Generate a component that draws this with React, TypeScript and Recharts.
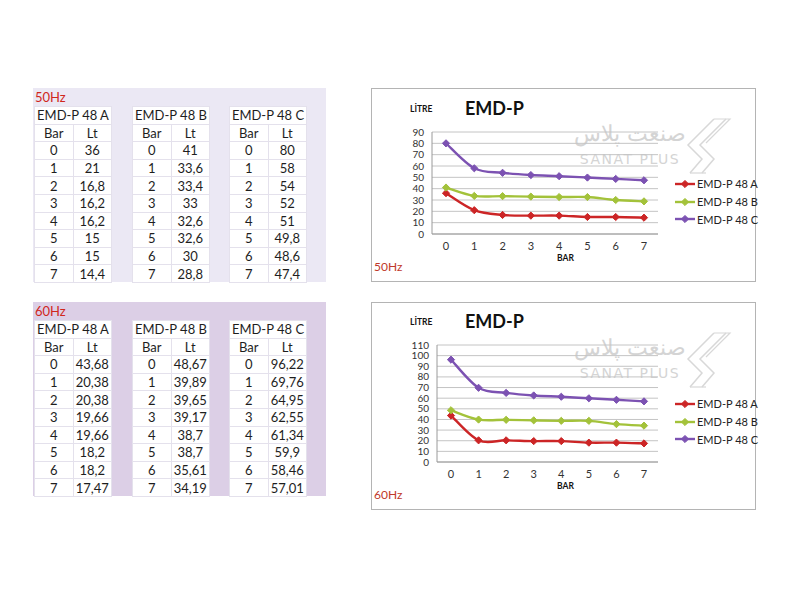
import { LineChart, Line, XAxis, YAxis, CartesianGrid } from 'recharts';

const bars = ['0', '1', '2', '3', '4', '5', '6', '7'];
const seriesNames = ['EMD-P 48 A', 'EMD-P 48 B', 'EMD-P 48 C'];

const hz50A = [36, 21, 16.8, 16.2, 16.2, 15, 15, 14.4];
const hz50B = [41, 33.6, 33.4, 33, 32.6, 32.6, 30, 28.8];
const hz50C = [80, 58, 54, 52, 51, 49.8, 48.6, 47.4];

const hz60A = [43.68, 20.38, 20.38, 19.66, 19.66, 18.2, 18.2, 17.47];
const hz60B = [48.67, 39.89, 39.65, 39.17, 38.7, 38.7, 35.61, 34.19];
const hz60C = [96.22, 69.76, 64.95, 62.55, 61.34, 59.9, 58.46, 57.01];

const ticks50 = [0, 10, 20, 30, 40, 50, 60, 70, 80, 90];
const ticks60 = [0, 10, 20, 30, 40, 50, 60, 70, 80, 90, 100, 110];

const COLORS = ['#cc2526', '#a3c23a', '#7c52b2'];
const FONT = 'Lato, "Open Sans", sans-serif';

// excel style smoothing (catmull-rom as bezier)
const excelCurve: any = (context: any) => {
  let pts: number[][] = [];
  return {
    areaStart() {},
    areaEnd() {},
    lineStart() {
      pts = [];
    },
    lineEnd() {
      if (!pts.length) return;
      context.moveTo(pts[0][0], pts[0][1]);
      for (let i = 0; i < pts.length - 1; i++) {
        const p0 = pts[i - 1] || pts[i];
        const p1 = pts[i];
        const p2 = pts[i + 1];
        const p3 = pts[i + 2] || p2;
        context.bezierCurveTo(
          p1[0] + (p2[0] - p0[0]) / 6,
          p1[1] + (p2[1] - p0[1]) / 6,
          p2[0] - (p3[0] - p1[0]) / 6,
          p2[1] - (p3[1] - p1[1]) / 6,
          p2[0],
          p2[1]
        );
      }
    },
    point(x: number, y: number) {
      pts.push([x, y]);
    },
  };
};

const fmt = (n: number) => String(n).replace('.', ',');

function Diamond({ cx, cy, color }: { cx?: number; cy?: number; color: string }) {
  if (cx == null || cy == null) return null;
  const r = 3.6;
  return <polygon points={`${cx},${cy - r} ${cx + r},${cy} ${cx},${cy + r} ${cx - r},${cy}`} fill={color} stroke={color} />;
}

function DataTable({ title, values, left, top }: { title: string; values: number[]; left: number; top: number }) {
  const cell: React.CSSProperties = {
    background: '#fff',
    border: '1px solid #e4e1ec',
    textAlign: 'center',
    padding: 0,
    height: 16.6,
    lineHeight: '16px',
    whiteSpace: 'nowrap',
  };
  return (
    <table
      style={{
        position: 'absolute',
        left,
        top,
        width: 78,
        borderCollapse: 'collapse',
        fontFamily: FONT,
        fontSize: 13,
        color: '#1e1e1e',
        tableLayout: 'fixed',
      }}
    >
      <tbody>
        <tr>
          <td colSpan={2} style={cell}>{title}</td>
        </tr>
        <tr>
          <td style={cell}>Bar</td>
          <td style={cell}>Lt</td>
        </tr>
        {bars.map((b, i) => (
          <tr key={b}>
            <td style={cell}>{b}</td>
            <td style={cell}>{fmt(values[i])}</td>
          </tr>
        ))}
      </tbody>
    </table>
  );
}

function TableBlock({ label, bg, top, a, b, c }: { label: string; bg: string; top: number; a: number[]; b: number[]; c: number[] }) {
  return (
    <div style={{ position: 'absolute', left: 33, top, width: 293, height: 194, background: bg }}>
      <div style={{ position: 'absolute', left: 2, top: 1, fontFamily: FONT, fontSize: 13, color: '#d0261c' }}>{label}</div>
      <DataTable title={seriesNames[0]} values={a} left={1} top={18} />
      <DataTable title={seriesNames[1]} values={b} left={99} top={18} />
      <DataTable title={seriesNames[2]} values={c} left={196} top={18} />
    </div>
  );
}

function Watermark() {
  const text: React.CSSProperties = {
    position: 'absolute',
    left: 198,
    width: 120,
    textAlign: 'center',
    whiteSpace: 'nowrap',
    color: '#d4d4d4',
    fontFamily: '"DejaVu Sans", sans-serif',
  };
  return (
    <>
      <div style={{ ...text, top: 32, fontSize: 22, direction: 'rtl', fontWeight: 300 }}>صنعت پلاس</div>
      <div style={{ ...text, top: 62, fontSize: 14, letterSpacing: 1.5 }}>SANAT PLUS</div>
      <svg style={{ position: 'absolute', left: 312, top: 28 }} width={50} height={60}>
        <polyline points="30,2 4,28 18,42 6,56" fill="none" stroke="#d8d8d8" strokeWidth={1.5} />
        <polyline points="42,2 16,28 30,42 18,56" fill="none" stroke="#d8d8d8" strokeWidth={1.5} />
        <polyline points="30,2 46,2 22,26" fill="none" stroke="#d8d8d8" strokeWidth={1.2} />
        <polyline points="6,56 22,56" fill="none" stroke="#d8d8d8" strokeWidth={1.2} />
      </svg>
    </>
  );
}

function ChartPanel({
  top,
  height,
  hz,
  a,
  b,
  c,
  yTicks,
  yMax,
  marginLeft,
  marginTop,
  legendTop,
}: {
  top: number;
  height: number;
  hz: string;
  a: number[];
  b: number[];
  c: number[];
  yTicks: number[];
  yMax: number;
  marginLeft: number;
  marginTop: number;
  legendTop: number;
}) {
  const data = bars.map((bar, i) => ({ bar, a: a[i], b: b[i], c: c[i] }));
  const keys = ['a', 'b', 'c'];
  const tick = { fontSize: 10, fill: '#333', fontFamily: FONT };
  return (
    <div style={{ position: 'absolute', left: 371, top, width: 385, height, border: '1px solid #b4b4b4', boxSizing: 'border-box', background: '#fff' }}>
      <Watermark />
      <div style={{ position: 'absolute', left: 93, top: marginTop - 35, fontFamily: FONT, fontWeight: 700, fontSize: 18, color: '#111' }}>EMD-P</div>
      <div style={{ position: 'absolute', left: 38, top: marginTop - 28, fontFamily: FONT, fontWeight: 700, fontSize: 8.5, color: '#111' }}>LİTRE</div>
      <LineChart
        width={383}
        height={height - 2}
        data={data}
        margin={{ top: marginTop, right: 97, left: marginLeft, bottom: 17 }}
        style={{ position: 'absolute', left: 0, top: 0 }}
      >
        <CartesianGrid vertical={false} stroke="#c4c4c4" />
        <XAxis dataKey="bar" height={30} tickLine={false} stroke="#9a9a9a" tick={{ ...tick, fontSize: 11 }} padding={{ left: 14, right: 14 }} />
        <YAxis width={40} domain={[0, yMax]} ticks={yTicks} interval={0} tickLine={false} stroke="#9a9a9a" tick={tick} />
        {keys.map((k, i) => (
          <Line
            key={k}
            dataKey={k}
            name={seriesNames[i]}
            type={excelCurve}
            stroke={COLORS[i]}
            strokeWidth={2.4}
            dot={(p: any) => <Diamond key={`${k}-${p.index}`} cx={p.cx} cy={p.cy} color={COLORS[i]} />}
            isAnimationActive={false}
          />
        ))}
      </LineChart>
      <div style={{ position: 'absolute', left: 185, top: height - 30, fontFamily: FONT, fontWeight: 700, fontSize: 8.5, color: '#111' }}>BAR</div>
      <div style={{ position: 'absolute', left: 2, top: height - 24, fontFamily: FONT, fontSize: 12, color: '#c0392b' }}>{hz}</div>
      <div style={{ position: 'absolute', left: 303, top: legendTop }}>
        {seriesNames.map((n, i) => (
          <div key={n} style={{ display: 'flex', alignItems: 'center', height: 17.7, whiteSpace: 'nowrap' }}>
            <svg width={20} height={10}>
              <line x1={0} y1={5} x2={20} y2={5} stroke={COLORS[i]} strokeWidth={2.4} />
              <Diamond cx={10} cy={5} color={COLORS[i]} />
            </svg>
            <span style={{ marginLeft: 2, fontFamily: FONT, fontSize: 11, color: '#222' }}>{n}</span>
          </div>
        ))}
      </div>
    </div>
  );
}

export default function App() {
  return (
    <div style={{ position: 'absolute', left: 0, top: 0, width: 800, height: 599, background: '#fff', overflow: 'hidden' }}>
      <TableBlock label="50Hz" bg="#ebe8f4" top={88} a={hz50A} b={hz50B} c={hz50C} />
      <TableBlock label="60Hz" bg="#dccfe6" top={302} a={hz60A} b={hz60B} c={hz60C} />
      <ChartPanel top={88} height={194} hz="50Hz" a={hz50A} b={hz50B} c={hz50C} yTicks={ticks50} yMax={90} marginLeft={20} marginTop={43} legendTop={86} />
      <ChartPanel top={302} height={208} hz="60Hz" a={hz60A} b={hz60B} c={hz60C} yTicks={ticks60} yMax={110} marginLeft={25} marginTop={42} legendTop={92} />
    </div>
  );
}
